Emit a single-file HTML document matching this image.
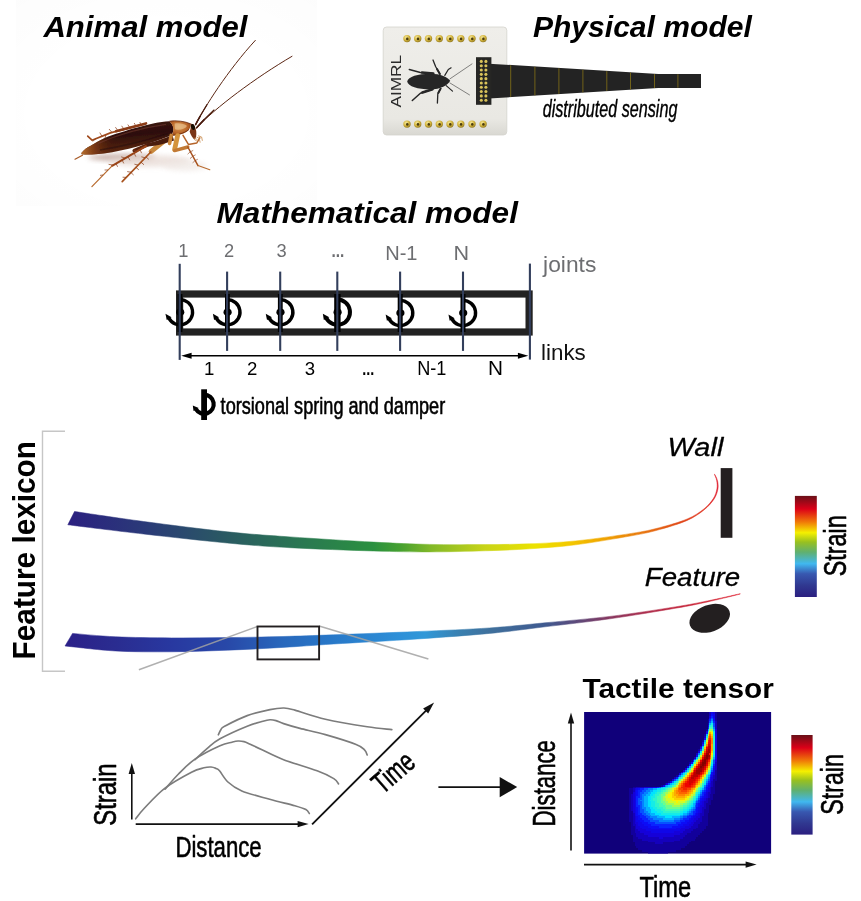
<!DOCTYPE html>
<html lang="en"><head><meta charset="utf-8"><title>Tactile sensing figure</title>
<style>
html,body{margin:0;padding:0;background:#fff;}
body{width:861px;height:901px;overflow:hidden;position:relative;}
svg{position:absolute;left:0;top:0;display:block;font-family:'Liberation Sans', 'DejaVu Sans', sans-serif;}
</style></head><body>
<svg width="861" height="901" viewBox="0 0 861 901">
<text transform="translate(43.40 37.10)" font-size="30.40" font-weight="bold" font-style="italic" fill="#000" text-anchor="start" textLength="204.00" lengthAdjust="spacingAndGlyphs">Animal model</text>
<text transform="translate(532.90 37.10)" font-size="30.40" font-weight="bold" font-style="italic" fill="#000" text-anchor="start" textLength="219.00" lengthAdjust="spacingAndGlyphs">Physical model</text>
<text transform="translate(542.70 116.70)" font-size="24.00" font-weight="normal" font-style="italic" fill="#000" text-anchor="start" textLength="134.70" lengthAdjust="spacingAndGlyphs" stroke="#000" stroke-width="0.40" stroke-linejoin="round">distributed sensing</text>
<defs>
<linearGradient id="wing" x1="0" y1="0" x2="0.25" y2="1">
<stop offset="0" stop-color="#451a12"/><stop offset="0.5" stop-color="#2c0e09"/><stop offset="1" stop-color="#5e2810"/>
</linearGradient>
<linearGradient id="wing2" x1="0" y1="0" x2="1" y2="0">
<stop offset="0" stop-color="#b8702e"/><stop offset="0.14" stop-color="#8a4218" stop-opacity="0.75"/><stop offset="0.4" stop-color="#3a1209" stop-opacity="0"/>
</linearGradient>
<radialGradient id="pron" cx="0.45" cy="0.4" r="0.7">
<stop offset="0" stop-color="#d99a50"/><stop offset="0.6" stop-color="#b86428"/><stop offset="1" stop-color="#7a3412"/>
</radialGradient>
<filter id="blur3" x="-20%" y="-50%" width="140%" height="200%"><feGaussianBlur stdDeviation="2.5"/></filter>
<filter id="blur1" x="-10%" y="-10%" width="120%" height="120%"><feGaussianBlur stdDeviation="0.5"/></filter>
</defs>
<defs><radialGradient id="vig" cx="0.5" cy="0.55" r="0.75"><stop offset="0.55" stop-color="#000" stop-opacity="0"/><stop offset="1" stop-color="#000" stop-opacity="0.011"/></radialGradient></defs>
<rect x="16" y="0" width="301" height="206" fill="url(#vig)"/>
<g id="roach">
<ellipse cx="122" cy="157.5" rx="34" ry="3.2" fill="#b89a90" opacity="0.8" filter="url(#blur3)"/>
<ellipse cx="150" cy="161" rx="42" ry="6" fill="#e6d8d2" opacity="0.7" filter="url(#blur3)"/>
<ellipse cx="185" cy="166" rx="22" ry="5" fill="#efe8e4" opacity="0.7" filter="url(#blur3)"/>
<g filter="url(#blur1)">
<path d="M195.6 124.6 C204 108 228 70 255.3 40.4" fill="none" stroke="#5a2614" stroke-width="1" stroke-linecap="round"/>
<path d="M196.6 127.8 C215 108 255 78 292 56.3" fill="none" stroke="#5a2614" stroke-width="1" stroke-linecap="round"/>
<path d="M195.6 124.6 C199 118 203 111 207 104.6 M196.6 127.8 C202 121.6 208 115.6 214 110" fill="none" stroke="#4a1c0e" stroke-width="1.15" stroke-linecap="round"/>
<path d="M195.6 124.6 C197 121.8 198.6 119 200.2 116.2 M196.6 127.8 C199 125 201.6 122.2 204.2 119.6" fill="none" stroke="#4a1c0e" stroke-width="1.5" stroke-linecap="round"/>
<path d="M144.1 124.3 L110.4 132.9 L92 140.2 L87.7 136.2" fill="none" stroke="#a04a1c" stroke-width="1.7" stroke-linecap="round" stroke-linejoin="round"/>
<path d="M146 123.4 L116 131.2" fill="none" stroke="#8a3a14" stroke-width="2.6" stroke-linecap="round"/>
<path d="M112 132.4l-3-3.4M118 130.8l-2.6-3.6M124 129.2l-2.4-3.4M130 127.8l-2.2-3.2M136 126.2l-1.8-3.2M141 125l-1.2-3M102 136.4l-2.2-3.8M96 138.6l-3.4 2.8M106 134.6l-1 3.4" stroke="#8a3a14" stroke-width="0.7" fill="none"/>
<path d="M82.5 155.2 L75 159.2" stroke="#a85a26" stroke-width="1.2" stroke-linecap="round"/>
<path d="M183 135.4 L188.4 144.4 L196.8 143 L199.8 137.8" fill="none" stroke="#b5642a" stroke-width="1.5" stroke-linecap="round" stroke-linejoin="round"/>
<path d="M196.6 137 l2.6 1.4 l1 4.2 M198.2 135.8 l3.4 1.2 l0.8 3.8" fill="none" stroke="#c98a4a" stroke-width="0.8"/>
<path d="M147.5 144.8 L134.2 150.6" stroke="#5a2410" stroke-width="3.6" stroke-linecap="round"/>
<path d="M146 146.2 L112.1 165.8" stroke="#9a4418" stroke-width="2" stroke-linecap="round"/>
<path d="M112.1 165.8 L91.9 186.6" stroke="#b86a2e" stroke-width="1.2" stroke-linecap="round"/>
<path d="M140 149.6l1.6 3.6M134 153l1.8 3.6M128 156.6l1.8 3.6M122 160l1.8 3.4M116 163.4l1.6 3.4M137 151.4l-3.8 -1.6M125 158.2l-3.8-1.4M113 165l-4.4 -0.6M108 170l-3.4 0M103 175l-3 0.4" stroke="#8a3a14" stroke-width="0.7" fill="none"/>
<path d="M164.3 140.8 L151.2 151.4" stroke="#c8883c" stroke-width="5" stroke-linecap="round"/>
<path d="M150.8 152 L122.2 181.6" stroke="#a8521e" stroke-width="1.7" stroke-linecap="round"/>
<path d="M146 157l2.8 2.4M141 162.2l3 2.6M136 167.4l2.8 2.4M131 172.6l2.6 2.4M145 157.8l-3.6 -1M138 165l-3.6-0.8M131 172.2l-3.8 -0.6M126 177.4l-3.4 -0.2" stroke="#8a3a14" stroke-width="0.7" fill="none"/>
<path d="M81.4 153 C84 149.6 87 147.6 90.2 146 C95 143 99 140.8 103.7 138.4 C109 135.8 114.6 134 120.5 132.4 C126 130.6 132 128.8 137.4 127.4 C143 125.8 148.6 124.4 154.2 123.2 C159.4 122.2 164.4 121.4 169.4 121.2 C173.8 125 175 130.4 171.2 135.4 C166.8 137.2 162.2 138.8 157.6 140.4 C153.2 142 148.6 143.4 144.1 144.6 C139 146.2 134 147.6 128.9 148.8 C123.4 150.2 117.8 151.2 112.1 152.2 C106.6 153.2 101 153.8 95.3 154.2 C90.6 154.6 86 154.6 81.6 154.2 Z" fill="url(#wing)"/>
<path d="M81.4 153 C84 149.6 87 147.6 90.2 146 C95 143 99 140.8 103.7 138.4 C109 135.8 114.6 134 120.5 132.4 C126 130.6 132 128.8 137.4 127.4 C143 125.8 148.6 124.4 154.2 123.2 C159.4 122.2 164.4 121.4 169.4 121.2 C173.8 125 175 130.4 171.2 135.4 C166.8 137.2 162.2 138.8 157.6 140.4 C153.2 142 148.6 143.4 144.1 144.6 C139 146.2 134 147.6 128.9 148.8 C123.4 150.2 117.8 151.2 112.1 152.2 C106.6 153.2 101 153.8 95.3 154.2 C90.6 154.6 86 154.6 81.6 154.2 Z" fill="url(#wing2)"/>
<path d="M98 143.5 C118 134.6 143 127.6 166 124.4" fill="none" stroke="#7a4038" stroke-width="1.2" opacity="0.5"/>
<path d="M100 150 C120 147 146 140.6 168 133.6" fill="none" stroke="#1e0804" stroke-width="1.6" opacity="0.45"/>
<path d="M146 143.8 C156 141.2 166 138 172.4 135 L174 140.6 C166 143.6 156 146 148 146.6 Z" fill="#4a1a0a"/>
<path d="M169.4 121.2 C176 120.2 185 121.2 190.6 123.8 C191.2 128.6 187.4 132.8 181 134.2 C176.8 135 173 135.2 171.2 136 C174.8 130.4 173.6 125 169.4 121.2 Z" fill="url(#pron)"/>
<path d="M174.6 123.6 C179 122.6 184.6 123.8 187 126 C184.6 129.4 179 130.8 175 129.2 Z" fill="#f0cfa0" opacity="0.6"/>
<path d="M169.4 121.2 C176 120.2 185 121.2 190.6 123.8" fill="none" stroke="#5a2410" stroke-width="0.9" opacity="0.8"/>
<path d="M171.4 135.8 C176 134.6 184 134 189 129.4" fill="none" stroke="#6a2a10" stroke-width="1" opacity="0.8"/>
<path d="M190.2 123.4 C193.8 123.6 195.8 127.2 196.2 131 C196.6 134.8 196.2 138.2 194.6 139.8 C192.6 138.2 190.6 135 189.6 131.6 C190.8 129.2 191 126 190.2 123.4 Z" fill="#7a3614"/>
<ellipse cx="193" cy="127" rx="1.9" ry="3" fill="#160804" transform="rotate(-15 193 127)"/>
<path d="M194.6 139.8 l1.8 1 l1.4 -1.2 M193.8 138 l3.2 1.4" stroke="#c98a4a" stroke-width="0.7" fill="none"/>
<path d="M171.2 135.4 L169.6 143.4" stroke="#c98438" stroke-width="3.6" stroke-linecap="round"/>
<path d="M177.6 135.6 L174.6 149.4" stroke="#d4943e" stroke-width="4.8" stroke-linecap="round"/>
<path d="M174.6 150.6 L187.8 147" stroke="#c27a34" stroke-width="3.4" stroke-linecap="round"/>
<path d="M187.8 147 L198 165.6" stroke="#a8521e" stroke-width="1.5" stroke-linecap="round"/>
<path d="M198 165.6 L209.8 169.8" stroke="#b86a2e" stroke-width="1.1" stroke-linecap="round"/>
<path d="M190.4 151.8l2.8-1.4M192.8 156.2l2.8-1.4M195.2 160.6l2.6-1.4M190 152l-2.4 2.2M192.4 156.6l-2.4 2M194.8 161l-2.2 1.8" stroke="#8a3a14" stroke-width="0.6" fill="none"/>
</g></g>
<defs>
<linearGradient id="pcb" x1="0" y1="0" x2="0" y2="1">
<stop offset="0" stop-color="#efeeea"/><stop offset="0.85" stop-color="#e9e8e3"/><stop offset="1" stop-color="#d9d8d2"/>
</linearGradient>
<radialGradient id="gold" cx="0.4" cy="0.35" r="0.7">
<stop offset="0" stop-color="#f6eaa0"/><stop offset="0.55" stop-color="#d4b53c"/><stop offset="1" stop-color="#8a7220"/>
</radialGradient>
</defs>
<g id="pcb">
<rect x="383.2" y="27" width="123.6" height="108" rx="3.4" fill="url(#pcb)"/>
<rect x="383.2" y="27" width="123.6" height="108" rx="3.4" fill="none" stroke="#d4d3cd" stroke-width="0.8"/>
<circle cx="407.0" cy="38.6" r="3.7" fill="url(#gold)"/>
<circle cx="407.3" cy="38.9" r="1.3" fill="#4a3c10"/>
<circle cx="417.7" cy="38.6" r="3.7" fill="url(#gold)"/>
<circle cx="418.0" cy="38.9" r="1.3" fill="#4a3c10"/>
<circle cx="428.5" cy="38.6" r="3.7" fill="url(#gold)"/>
<circle cx="428.8" cy="38.9" r="1.3" fill="#4a3c10"/>
<circle cx="439.3" cy="38.6" r="3.7" fill="url(#gold)"/>
<circle cx="439.6" cy="38.9" r="1.3" fill="#4a3c10"/>
<circle cx="450.0" cy="38.6" r="3.7" fill="url(#gold)"/>
<circle cx="450.3" cy="38.9" r="1.3" fill="#4a3c10"/>
<circle cx="460.8" cy="38.6" r="3.7" fill="url(#gold)"/>
<circle cx="461.1" cy="38.9" r="1.3" fill="#4a3c10"/>
<circle cx="472.0" cy="38.6" r="3.7" fill="url(#gold)"/>
<circle cx="472.3" cy="38.9" r="1.3" fill="#4a3c10"/>
<circle cx="483.1" cy="38.6" r="3.7" fill="url(#gold)"/>
<circle cx="483.4" cy="38.9" r="1.3" fill="#4a3c10"/>
<circle cx="407.0" cy="124.1" r="3.7" fill="url(#gold)"/>
<circle cx="407.3" cy="124.4" r="1.3" fill="#4a3c10"/>
<circle cx="417.7" cy="124.1" r="3.7" fill="url(#gold)"/>
<circle cx="418.0" cy="124.4" r="1.3" fill="#4a3c10"/>
<circle cx="428.5" cy="124.1" r="3.7" fill="url(#gold)"/>
<circle cx="428.8" cy="124.4" r="1.3" fill="#4a3c10"/>
<circle cx="439.3" cy="124.1" r="3.7" fill="url(#gold)"/>
<circle cx="439.6" cy="124.4" r="1.3" fill="#4a3c10"/>
<circle cx="450.0" cy="124.1" r="3.7" fill="url(#gold)"/>
<circle cx="450.3" cy="124.4" r="1.3" fill="#4a3c10"/>
<circle cx="460.8" cy="124.1" r="3.7" fill="url(#gold)"/>
<circle cx="461.1" cy="124.4" r="1.3" fill="#4a3c10"/>
<circle cx="472.0" cy="124.1" r="3.7" fill="url(#gold)"/>
<circle cx="472.3" cy="124.4" r="1.3" fill="#4a3c10"/>
<circle cx="483.1" cy="124.1" r="3.7" fill="url(#gold)"/>
<circle cx="483.4" cy="124.4" r="1.3" fill="#4a3c10"/>
<text transform="translate(401.20 107.60) rotate(-90.00)" font-size="15.00" font-weight="normal" font-style="normal" fill="#2a2a2a" text-anchor="start" textLength="52.60" lengthAdjust="spacingAndGlyphs" font-family="'Liberation Sans', sans-serif">AIMRL</text>
<path d="M407.2 81.6 C408 76.6 418 73.8 430 73.8 C441 73.8 447.6 77.4 450.2 80.8 C447.6 85.2 441 89.4 430 89.4 C418 89.4 408 86.6 407.2 81.6 Z" fill="#262626"/>
<g fill="none" stroke="#262626" stroke-linecap="round" stroke-linejoin="round">
<path d="M450 78.8 L472 63.9 M450 83 L469.5 94.9" stroke-width="0.55"/>
<path d="M433 73.4 L420.4 72.4 L409.3 69.5" stroke-width="1.5"/>
<path d="M439.9 74 L435.7 66.7 L433 60" stroke-width="1.3"/>
<path d="M444.8 75.4 L448.3 69.5 L451.1 67.8" stroke-width="1.2"/>
<path d="M432.3 89.4 L420.4 93.2 L412.3 100.5" stroke-width="1.5"/>
<path d="M440.6 88.6 L437.8 93.9 L437.4 103" stroke-width="1.3"/>
<path d="M446.2 85.6 L452.5 91.1" stroke-width="1.2"/>
<path d="M433.4 73.6 L422 72.5 M432.6 89.2 L422.4 92.5" stroke-width="2.5"/>
<path d="M439.9 74 L437 69 M440.6 88.6 L438.4 92.8" stroke-width="2"/>
</g>
<path d="M489 63.7 L658.4 74 L701 74 L701 88 L658.4 88 L489 98.5 Z" fill="#232323"/>
<path d="M510.7 65.3V96.9" stroke="#7a6a18" stroke-width="0.9"/>
<path d="M534.9 66.8V95.4" stroke="#7a6a18" stroke-width="0.9"/>
<path d="M558.9 68.3V93.9" stroke="#7a6a18" stroke-width="0.9"/>
<path d="M582.9 69.7V92.4" stroke="#7a6a18" stroke-width="0.9"/>
<path d="M606.8 71.2V90.9" stroke="#7a6a18" stroke-width="0.9"/>
<path d="M630.5 72.6V89.4" stroke="#7a6a18" stroke-width="0.9"/>
<path d="M654.5 74.1V87.9" stroke="#7a6a18" stroke-width="0.9"/>
<path d="M677.9 74.3V87.7" stroke="#7a6a18" stroke-width="0.9"/>
<rect x="476" y="57.2" width="15.4" height="47.6" fill="#262624"/>
<circle cx="481.3" cy="61.40" r="1.55" fill="#d9c25a"/>
<circle cx="485.9" cy="61.40" r="1.55" fill="#d9c25a"/>
<circle cx="481.3" cy="65.71" r="1.55" fill="#d9c25a"/>
<circle cx="485.9" cy="65.71" r="1.55" fill="#d9c25a"/>
<circle cx="481.3" cy="70.02" r="1.55" fill="#d9c25a"/>
<circle cx="485.9" cy="70.02" r="1.55" fill="#d9c25a"/>
<circle cx="481.3" cy="74.33" r="1.55" fill="#d9c25a"/>
<circle cx="485.9" cy="74.33" r="1.55" fill="#d9c25a"/>
<circle cx="481.3" cy="78.64" r="1.55" fill="#d9c25a"/>
<circle cx="485.9" cy="78.64" r="1.55" fill="#d9c25a"/>
<circle cx="481.3" cy="82.95" r="1.55" fill="#d9c25a"/>
<circle cx="485.9" cy="82.95" r="1.55" fill="#d9c25a"/>
<circle cx="481.3" cy="87.26" r="1.55" fill="#d9c25a"/>
<circle cx="485.9" cy="87.26" r="1.55" fill="#d9c25a"/>
<circle cx="481.3" cy="91.57" r="1.55" fill="#d9c25a"/>
<circle cx="485.9" cy="91.57" r="1.55" fill="#d9c25a"/>
<circle cx="481.3" cy="95.88" r="1.55" fill="#d9c25a"/>
<circle cx="485.9" cy="95.88" r="1.55" fill="#d9c25a"/>
<circle cx="481.3" cy="100.19" r="1.55" fill="#d9c25a"/>
<circle cx="485.9" cy="100.19" r="1.55" fill="#d9c25a"/>
</g>
<text transform="translate(216.60 222.50)" font-size="30.30" font-weight="bold" font-style="italic" fill="#000" text-anchor="start" textLength="301.30" lengthAdjust="spacingAndGlyphs">Mathematical model</text>
<text transform="translate(178.20 257.00)" font-size="18.30" font-weight="normal" font-style="normal" fill="#6d6e71" text-anchor="start">1</text>
<text transform="translate(224.00 257.00)" font-size="18.30" font-weight="normal" font-style="normal" fill="#6d6e71" text-anchor="start">2</text>
<text transform="translate(276.40 257.00)" font-size="18.30" font-weight="normal" font-style="normal" fill="#6d6e71" text-anchor="start">3</text>
<text transform="translate(331.50 257.00)" font-size="18.30" font-weight="bold" font-style="normal" fill="#6d6e71" text-anchor="start" textLength="12.80" lengthAdjust="spacingAndGlyphs">...</text>
<text transform="translate(385.20 260.10)" font-size="20.50" font-weight="normal" font-style="normal" fill="#6d6e71" text-anchor="start" textLength="32.30" lengthAdjust="spacingAndGlyphs">N-1</text>
<text transform="translate(453.60 260.10)" font-size="20.50" font-weight="normal" font-style="normal" fill="#6d6e71" text-anchor="start" textLength="15.60" lengthAdjust="spacingAndGlyphs">N</text>
<text transform="translate(543.10 271.80)" font-size="22.50" font-weight="normal" font-style="normal" fill="#6d6e71" text-anchor="start" textLength="53.20" lengthAdjust="spacingAndGlyphs">joints</text>
<text transform="translate(541.00 360.00)" font-size="22.50" font-weight="normal" font-style="normal" fill="#111" text-anchor="start" textLength="44.80" lengthAdjust="spacingAndGlyphs">links</text>
<rect x="179.6" y="294" width="349.5" height="38" fill="none" stroke="#222" stroke-width="7.2"/>
<path d="M180.00 299.60 A12.60 12.60 0 1 1 168.87 318.12" fill="none" stroke="#000" stroke-width="3.30"/>
<path d="M166.73 319.94L165.46 313.82L171.58 317.35Z" fill="#000"/>
<rect x="177.60" y="294" width="4.80" height="38" fill="#000"/>
<ellipse cx="180.20" cy="312.20" rx="4.1" ry="3.4" fill="#000"/>
<path d="M227.40 299.60 A12.60 12.60 0 1 1 216.27 318.12" fill="none" stroke="#000" stroke-width="3.40"/>
<path d="M214.08 319.96L212.86 313.82L219.03 317.33Z" fill="#000"/>
<rect x="225.00" y="294" width="4.80" height="38" fill="#000"/>
<ellipse cx="227.60" cy="312.20" rx="4.1" ry="3.4" fill="#000"/>
<path d="M280.30 299.60 A12.60 12.60 0 1 1 269.17 318.12" fill="none" stroke="#000" stroke-width="3.40"/>
<path d="M266.98 319.96L265.76 313.82L271.93 317.33Z" fill="#000"/>
<rect x="277.90" y="294" width="4.80" height="38" fill="#000"/>
<ellipse cx="280.50" cy="312.20" rx="4.1" ry="3.4" fill="#000"/>
<path d="M337.40 299.60 A12.60 12.60 0 1 1 326.27 318.12" fill="none" stroke="#000" stroke-width="4.00"/>
<path d="M323.82 320.10L322.86 313.82L329.29 317.19Z" fill="#000"/>
<rect x="334.20" y="294" width="6.40" height="38" fill="#000"/>
<ellipse cx="337.60" cy="312.20" rx="4.1" ry="3.4" fill="#000"/>
<path d="M400.20 300.40 A12.60 12.60 0 1 1 389.07 318.92" fill="none" stroke="#000" stroke-width="3.40"/>
<path d="M386.88 320.76L385.66 314.62L391.83 318.13Z" fill="#000"/>
<rect x="397.70" y="294" width="5.00" height="38" fill="#000"/>
<ellipse cx="400.40" cy="313.00" rx="4.1" ry="3.4" fill="#000"/>
<path d="M463.00 300.40 A12.60 12.60 0 1 1 451.87 318.92" fill="none" stroke="#000" stroke-width="3.40"/>
<path d="M449.68 320.76L448.46 314.62L454.63 318.13Z" fill="#000"/>
<rect x="460.50" y="294" width="5.00" height="38" fill="#000"/>
<ellipse cx="463.20" cy="313.00" rx="4.1" ry="3.4" fill="#000"/>
<path d="M179.7 263.8V359.9" stroke="#333f5c" stroke-width="2.1"/>
<path d="M227.1 271.6V350.9" stroke="#333f5c" stroke-width="2.1"/>
<path d="M280.2 271.6V350.9" stroke="#333f5c" stroke-width="2.1"/>
<path d="M337.3 271.6V350.9" stroke="#333f5c" stroke-width="2.1"/>
<path d="M400.1 271.6V350.9" stroke="#333f5c" stroke-width="2.1"/>
<path d="M463.0 271.6V350.9" stroke="#333f5c" stroke-width="2.1"/>
<path d="M529.9 263.6V359.6" stroke="#333f5c" stroke-width="2.1"/>
<path d="M190 355.7H520" stroke="#000" stroke-width="1.6"/>
<path d="M181.2 355.7l10.4-3v6z M528.3 355.7l-10.4-3v6z" fill="#000"/>
<text transform="translate(204.00 374.60)" font-size="18.60" font-weight="normal" font-style="normal" fill="#000" text-anchor="start">1</text>
<text transform="translate(247.00 374.60)" font-size="18.60" font-weight="normal" font-style="normal" fill="#000" text-anchor="start">2</text>
<text transform="translate(304.80 374.60)" font-size="18.60" font-weight="normal" font-style="normal" fill="#000" text-anchor="start">3</text>
<text transform="translate(362.20 374.60)" font-size="18.60" font-weight="bold" font-style="normal" fill="#000" text-anchor="start" textLength="12.00" lengthAdjust="spacingAndGlyphs">...</text>
<text transform="translate(417.20 374.80)" font-size="19.50" font-weight="normal" font-style="normal" fill="#000" text-anchor="start" textLength="29.20" lengthAdjust="spacingAndGlyphs">N-1</text>
<text transform="translate(488.00 374.80)" font-size="19.50" font-weight="normal" font-style="normal" fill="#000" text-anchor="start" textLength="15.00" lengthAdjust="spacingAndGlyphs">N</text>
<path d="M204.10 394.60 A9.60 9.60 0 1 1 195.79 409.00" fill="none" stroke="#000" stroke-width="4.20"/>
<path d="M193.49 411.02L192.79 405.42L198.68 408.02Z" fill="#000"/>
<rect x="201.20" y="389.30" width="5.80" height="30.70" fill="#000"/>
<text transform="translate(220.60 413.50)" font-size="24.00" font-weight="normal" font-style="normal" fill="#000" text-anchor="start" textLength="224.60" lengthAdjust="spacingAndGlyphs" stroke="#000" stroke-width="0.60" stroke-linejoin="round">torsional spring and damper</text>
<text transform="translate(35.40 659.40) rotate(-90.00)" font-size="31.70" font-weight="bold" font-style="normal" fill="#000" text-anchor="start" textLength="218.40" lengthAdjust="spacingAndGlyphs">Feature lexicon</text>
<path d="M65 431.2H42.5V671.2H65" fill="none" stroke="#c6c6c6" stroke-width="1.4"/>
<defs><linearGradient id="g1" gradientUnits="userSpaceOnUse" x1="67.8" y1="0" x2="717.9" y2="0"><stop offset="-0.0012" stop-color="#2b2080"/><stop offset="0.1188" stop-color="#2a3a78"/><stop offset="0.2449" stop-color="#2a5a62"/><stop offset="0.3572" stop-color="#2a7752"/><stop offset="0.4695" stop-color="#2a9040"/><stop offset="0.5110" stop-color="#45a030"/><stop offset="0.5571" stop-color="#80b828"/><stop offset="0.6417" stop-color="#c8d418"/><stop offset="0.7187" stop-color="#ece200"/><stop offset="0.7725" stop-color="#f3c800"/><stop offset="0.8186" stop-color="#f0a800"/><stop offset="0.8802" stop-color="#e87a10"/><stop offset="0.9417" stop-color="#e04818"/><stop offset="0.9802" stop-color="#e03020"/><stop offset="1.0002" stop-color="#e02030"/></linearGradient></defs>
<path d="M74.5 511.5C86.0 513.2 118.1 518.1 143.6 521.5C169.0 524.9 202.8 529.2 227.2 531.8C251.6 534.4 265.6 535.2 290.0 536.9C314.4 538.6 350.4 540.9 373.6 542.1C396.8 543.4 410.8 544.0 429.4 544.4C448.0 544.8 468.4 544.7 485.1 544.6C501.8 544.5 514.6 544.4 529.7 543.8C544.8 543.2 558.7 542.6 575.7 540.9C592.7 539.2 617.5 535.6 631.5 533.4C645.5 531.2 650.1 530.1 659.4 527.7C668.7 525.3 679.8 522.1 687.2 519.0C694.6 515.9 699.6 512.3 704.0 508.9C708.4 505.5 711.1 501.9 713.3 498.6C715.4 495.3 716.3 492.0 716.9 489.0C717.5 486.0 717.1 483.2 716.7 480.7C716.3 478.2 714.8 475.3 714.4 474.2L714.8 474.4C715.2 475.4 717.0 478.3 717.5 480.7C718.0 483.1 718.5 485.9 717.9 489.0C717.3 492.1 716.4 495.5 714.1 499.0C711.8 502.5 708.5 506.3 704.0 509.9C699.5 513.5 694.6 517.1 687.2 520.4C679.8 523.7 668.7 527.0 659.4 529.6C650.1 532.2 645.5 533.3 631.5 535.8C617.5 538.3 592.7 542.6 575.7 544.8C558.7 547.0 544.8 547.8 529.7 548.8C514.6 549.8 501.8 550.3 485.1 550.8C468.4 551.3 448.0 551.9 429.4 551.9C410.8 551.9 396.8 551.7 373.6 551.0C350.4 550.3 314.4 549.0 290.0 547.7C265.6 546.4 251.6 545.3 227.2 543.0C202.8 540.7 170.2 537.0 143.6 534.0C117.0 531.0 80.4 526.3 67.8 524.8Z" fill="url(#g1)" stroke="url(#g1)" stroke-width="0.5" stroke-linejoin="round"/>
<rect x="720.7" y="468.1" width="11.7" height="69.7" fill="#231f20"/>
<text transform="translate(667.60 455.80)" font-size="26.50" font-weight="normal" font-style="italic" fill="#000" text-anchor="start" textLength="55.70" lengthAdjust="spacingAndGlyphs" stroke="#000" stroke-width="0.30" stroke-linejoin="round">Wall</text>
<defs><linearGradient id="g2" gradientUnits="userSpaceOnUse" x1="65.0" y1="0" x2="740.2" y2="0"><stop offset="0.0000" stop-color="#2b2088"/><stop offset="0.0741" stop-color="#2a2c90"/><stop offset="0.1570" stop-color="#2838a0"/><stop offset="0.2399" stop-color="#2848a8"/><stop offset="0.3229" stop-color="#2868bc"/><stop offset="0.3969" stop-color="#2878c8"/><stop offset="0.4961" stop-color="#2e90d8"/><stop offset="0.5332" stop-color="#3098d8"/><stop offset="0.5850" stop-color="#3a80b0"/><stop offset="0.6294" stop-color="#3f709c"/><stop offset="0.7109" stop-color="#405a90"/><stop offset="0.7627" stop-color="#604878"/><stop offset="0.8072" stop-color="#883860"/><stop offset="0.8516" stop-color="#a83050"/><stop offset="0.9034" stop-color="#c02840"/><stop offset="0.9553" stop-color="#d02030"/><stop offset="0.9997" stop-color="#e02030"/></linearGradient></defs>
<path d="M72.5 633.4C79.7 634.0 99.2 636.0 115.7 636.8C132.2 637.5 152.9 637.8 171.5 637.9C190.1 638.0 208.6 637.8 227.2 637.6C245.8 637.4 265.3 637.0 283.0 636.5C300.7 636.0 311.2 635.6 333.6 634.8C356.0 634.0 391.2 632.6 417.2 631.5C443.2 630.4 468.4 629.4 489.7 627.9C511.0 626.4 525.0 624.7 545.0 622.8C565.0 620.9 588.3 619.0 610.0 616.4C631.7 613.8 658.8 609.5 675.1 606.9C691.4 604.3 696.8 603.1 707.6 600.9C718.5 598.7 734.8 594.9 740.2 593.7L740.2 594.1C734.8 595.4 718.5 599.5 707.6 601.9C696.8 604.3 691.4 605.5 675.1 608.3C658.8 611.1 631.7 615.7 610.0 618.8C588.3 621.9 565.0 624.4 545.0 626.8C525.0 629.2 511.0 631.4 489.7 633.4C468.4 635.4 443.2 637.2 417.2 639.0C391.2 640.8 356.0 642.6 333.6 644.0C311.2 645.4 300.7 646.4 283.0 647.4C265.3 648.4 245.8 649.5 227.2 650.2C208.6 650.9 190.1 651.7 171.5 651.8C152.9 651.9 133.4 652.0 115.7 651.0C98.0 650.0 73.5 646.8 65.0 646.0Z" fill="url(#g2)" stroke="url(#g2)" stroke-width="0.5" stroke-linejoin="round"/>
<ellipse cx="709.7" cy="618.3" rx="21" ry="13.4" transform="rotate(-20 709.7 618.3)" fill="#231f20"/>
<text transform="translate(644.80 586.40)" font-size="26.00" font-weight="normal" font-style="italic" fill="#000" text-anchor="start" textLength="95.30" lengthAdjust="spacingAndGlyphs" stroke="#000" stroke-width="0.30" stroke-linejoin="round">Feature</text>
<path d="M138.9 669.7L257.4 626.5M319.1 625.9L428.4 659.1" stroke="#a2a2a2" stroke-opacity="0.85" stroke-width="1.6" fill="none"/>
<rect x="257.5" y="626.5" width="61.6" height="32.9" fill="none" stroke="#231f20" stroke-width="1.9"/>
<defs><linearGradient id="cbar" x1="0" y1="0" x2="0" y2="1">
<stop offset="0" stop-color="#6a1018"/><stop offset="0.129" stop-color="#dc0018"/><stop offset="0.257" stop-color="#f07808"/>
<stop offset="0.364" stop-color="#f5f000"/><stop offset="0.457" stop-color="#98c020"/><stop offset="0.557" stop-color="#60b070"/>
<stop offset="0.671" stop-color="#40b8f0"/><stop offset="0.771" stop-color="#3858b0"/><stop offset="0.886" stop-color="#303890"/>
<stop offset="1" stop-color="#2b1f80"/></linearGradient></defs>
<rect x="794.9" y="495.9" width="21.9" height="101.1" fill="url(#cbar)"/>
<text transform="translate(846.10 576.20) rotate(-90.00)" font-size="31.50" font-weight="normal" font-style="normal" fill="#000" text-anchor="start" textLength="60.80" lengthAdjust="spacingAndGlyphs" stroke="#000" stroke-width="0.60" stroke-linejoin="round">Strain</text>
<text transform="translate(115.70 825.80) rotate(-90.00)" font-size="31.00" font-weight="normal" font-style="normal" fill="#000" text-anchor="start" textLength="62.40" lengthAdjust="spacingAndGlyphs" stroke="#000" stroke-width="0.60" stroke-linejoin="round">Strain</text>
<text transform="translate(175.40 857.20)" font-size="30.30" font-weight="normal" font-style="normal" fill="#000" text-anchor="start" textLength="86.30" lengthAdjust="spacingAndGlyphs" stroke="#000" stroke-width="0.60" stroke-linejoin="round">Distance</text>
<text transform="translate(382.40 794.90) rotate(-41.00)" font-size="29.60" font-weight="normal" font-style="normal" fill="#000" text-anchor="start" textLength="46.00" lengthAdjust="spacingAndGlyphs" stroke="#000" stroke-width="0.60" stroke-linejoin="round">Time</text>
<path d="M131.8 819.6L131.8 773.0" stroke="#111" stroke-width="1.60"/>
<path d="M131.8 763.0L135.0 774.0L128.6 774.0Z" fill="#111"/>
<path d="M135.7 824.1L298.6 824.1" stroke="#111" stroke-width="1.60"/>
<path d="M308.6 824.1L297.6 827.3L297.6 820.9Z" fill="#111"/>
<path d="M312.1 824.4L426.3 710.3" stroke="#111" stroke-width="1.90"/>
<path d="M434.1 702.5L428.2 713.5L423.1 708.4Z" fill="#111"/>
<path d="M135.7 818.8C137.1 817.1 139.2 813.6 144.1 808.5C149.0 803.4 157.1 794.1 165.0 788.1C172.9 782.1 185.0 775.6 191.5 772.2C198.0 768.8 200.8 768.7 204.0 767.8C207.2 766.9 209.0 766.9 211.0 767.0C213.0 767.1 214.6 767.8 216.0 768.4C217.4 769.0 217.5 768.5 219.5 770.8C221.5 773.1 224.2 778.6 227.9 782.0C231.6 785.4 234.8 788.0 241.8 790.9C248.8 793.8 260.9 796.8 269.7 799.3C278.5 801.8 288.8 804.0 294.8 805.7C300.8 807.4 303.5 808.3 305.9 809.6C308.3 810.9 308.7 812.9 309.3 813.5" fill="none" stroke="#7c7c7c" stroke-width="1.65" stroke-linecap="round"/>
<path d="M165.0 789.2C167.2 786.8 173.0 779.5 178.0 774.5C183.0 769.5 188.0 763.9 195.0 759.1C202.0 754.3 213.8 748.5 220.0 745.7C226.2 742.9 229.0 743.0 232.0 742.2C235.0 741.4 236.0 741.1 238.0 741.0C240.0 740.9 242.0 741.1 244.0 741.6C246.0 742.1 247.2 742.8 250.2 744.2C253.2 745.6 256.4 747.2 262.0 749.8C267.6 752.4 274.4 756.2 283.6 759.7C292.8 763.2 308.7 767.6 317.1 770.8C325.5 773.9 330.2 776.4 333.8 778.6C337.4 780.8 337.7 783.0 338.5 783.9" fill="none" stroke="#7c7c7c" stroke-width="1.65" stroke-linecap="round"/>
<path d="M195.0 759.7C197.0 757.9 202.8 752.1 207.0 748.6C211.2 745.1 213.3 742.5 220.0 738.8C226.7 735.1 240.0 729.1 247.2 726.2C254.4 723.3 259.2 722.3 263.0 721.2C266.8 720.1 267.8 719.9 270.0 719.8C272.2 719.7 273.7 720.0 276.0 720.6C278.3 721.2 279.6 722.3 283.6 723.6C287.6 724.9 293.0 726.6 300.0 728.4C307.0 730.2 316.0 731.9 325.4 734.6C334.8 737.3 349.6 741.9 356.1 744.4C362.6 746.9 362.6 748.1 364.5 749.9C366.4 751.7 366.8 754.1 367.2 755.0" fill="none" stroke="#7c7c7c" stroke-width="1.65" stroke-linecap="round"/>
<path d="M218.3 734.8C218.8 733.9 219.9 730.9 221.0 729.4C222.1 727.9 220.6 728.3 225.0 726.0C229.4 723.7 239.7 718.3 247.2 715.6C254.7 712.9 263.9 710.9 270.0 709.6C276.1 708.3 279.9 707.9 284.0 708.0C288.1 708.1 287.9 708.2 294.8 710.1C301.7 712.0 313.3 716.5 325.4 719.3C337.5 722.1 356.1 725.1 367.2 726.8C378.3 728.5 387.7 729.1 391.8 729.6" fill="none" stroke="#7c7c7c" stroke-width="1.65" stroke-linecap="round"/>
<path d="M438.4 787.1H501" stroke="#111" stroke-width="1.8"/>
<path d="M517.2 787.1L499.7 776.9V797.3Z" fill="#111"/>
<text transform="translate(582.50 698.10)" font-size="28.00" font-weight="bold" font-style="normal" fill="#000" text-anchor="start" textLength="191.40" lengthAdjust="spacingAndGlyphs">Tactile tensor</text>
<text transform="translate(555.40 826.40) rotate(-90.00)" font-size="31.00" font-weight="normal" font-style="normal" fill="#000" text-anchor="start" textLength="86.30" lengthAdjust="spacingAndGlyphs" stroke="#000" stroke-width="0.60" stroke-linejoin="round">Distance</text>
<text transform="translate(639.40 896.80)" font-size="29.40" font-weight="normal" font-style="normal" fill="#000" text-anchor="start" textLength="51.70" lengthAdjust="spacingAndGlyphs" stroke="#000" stroke-width="0.60" stroke-linejoin="round">Time</text>
<path d="M571.0 850.6L571.0 722.4" stroke="#111" stroke-width="1.60"/>
<path d="M571.0 712.4L574.2 723.4L567.8 723.4Z" fill="#111"/>
<path d="M584.0 864.6L746.6 864.6" stroke="#111" stroke-width="1.60"/>
<path d="M756.6 864.6L745.6 867.8L745.6 861.4Z" fill="#111"/>
<rect x="584.1" y="712" width="187" height="141.6" fill="#10007a"/>
<defs><clipPath id="hclip"><rect x="584.1" y="712" width="187" height="141.6"/></clipPath></defs>
<g id="heat" shape-rendering="crispEdges" clip-path="url(#hclip)"><path fill="#12009b" d="M715.0 712.0h2.0v1.96h-2.0zM715.0 713.8h2.0v1.96h-2.0zM715.0 715.7h2.0v1.96h-2.0zM715.0 717.5h2.0v1.96h-2.0zM707.5 719.4h2.0v1.96h-2.0zM715.0 719.4h2.0v1.96h-2.0zM707.5 721.3h2.0v1.96h-2.0zM705.6 728.7h2.0v1.96h-2.0zM703.7 734.3h2.0v1.96h-2.0zM701.9 739.9h2.0v1.96h-2.0zM698.1 749.2h2.0v1.96h-2.0zM692.5 758.5h2.0v1.96h-2.0zM690.6 760.4h2.0v1.96h-2.0zM688.8 762.3h2.0v1.96h-2.0zM715.0 769.7h2.0v1.96h-2.0zM715.0 771.6h2.0v1.96h-2.0zM715.0 773.4h2.0v1.96h-2.0zM675.7 775.3h2.0v1.96h-2.0zM715.0 775.3h2.0v1.96h-2.0zM715.0 777.2h2.0v1.96h-2.0zM713.1 779.0h3.8v1.96h-3.8zM668.2 780.9h2.0v1.96h-2.0zM713.1 780.9h2.0v1.96h-2.0zM664.5 782.8h2.0v1.96h-2.0zM713.1 782.8h2.0v1.96h-2.0zM660.7 784.6h2.0v1.96h-2.0zM713.1 784.6h2.0v1.96h-2.0zM632.7 786.5h3.8v1.96h-3.8zM711.2 786.5h3.8v1.96h-3.8zM628.9 788.3h3.8v1.96h-3.8zM711.2 788.3h3.8v1.96h-3.8zM628.9 790.2h3.8v1.96h-3.8zM711.2 790.2h3.8v1.96h-3.8zM628.9 792.1h3.8v1.96h-3.8zM711.2 792.1h3.8v1.96h-3.8zM628.9 793.9h2.0v1.96h-2.0zM709.3 793.9h3.8v1.96h-3.8zM628.9 795.8h2.0v1.96h-2.0zM709.3 795.8h3.8v1.96h-3.8zM628.9 797.7h2.0v1.96h-2.0zM707.5 797.7h5.7v1.96h-5.7zM628.9 799.5h2.0v1.96h-2.0zM707.5 799.5h3.8v1.96h-3.8zM628.9 801.4h2.0v1.96h-2.0zM707.5 801.4h3.8v1.96h-3.8zM628.9 803.2h2.0v1.96h-2.0zM705.6 803.2h5.7v1.96h-5.7zM628.9 805.1h2.0v1.96h-2.0zM705.6 805.1h3.8v1.96h-3.8zM628.9 807.0h2.0v1.96h-2.0zM705.6 807.0h3.8v1.96h-3.8zM628.9 808.8h2.0v1.96h-2.0zM703.7 808.8h5.7v1.96h-5.7zM628.9 810.7h3.8v1.96h-3.8zM703.7 810.7h5.7v1.96h-5.7zM628.9 812.6h3.8v1.96h-3.8zM703.7 812.6h3.8v1.96h-3.8zM628.9 814.4h3.8v1.96h-3.8zM703.7 814.4h3.8v1.96h-3.8zM628.9 816.3h3.8v1.96h-3.8zM701.9 816.3h5.7v1.96h-5.7zM628.9 818.2h3.8v1.96h-3.8zM701.9 818.2h5.7v1.96h-5.7zM628.9 820.0h3.8v1.96h-3.8zM701.9 820.0h5.7v1.96h-5.7zM630.8 821.9h2.0v1.96h-2.0zM700.0 821.9h7.6v1.96h-7.6zM630.8 823.7h2.0v1.96h-2.0zM698.1 823.7h9.5v1.96h-9.5zM630.8 825.6h3.8v1.96h-3.8zM698.1 825.6h7.6v1.96h-7.6zM630.8 827.5h3.8v1.96h-3.8zM696.3 827.5h9.5v1.96h-9.5zM630.8 829.3h3.8v1.96h-3.8zM692.5 829.3h11.3v1.96h-11.3zM630.8 831.2h3.8v1.96h-3.8zM690.6 831.2h11.3v1.96h-11.3zM630.8 833.1h5.7v1.96h-5.7zM686.9 833.1h13.2v1.96h-13.2zM632.7 834.9h3.8v1.96h-3.8zM685.0 834.9h13.2v1.96h-13.2zM632.7 836.8h5.7v1.96h-5.7zM683.2 836.8h13.2v1.96h-13.2zM632.7 838.6h9.5v1.96h-9.5zM679.4 838.6h15.1v1.96h-15.1zM632.7 840.5h15.1v1.96h-15.1zM673.8 840.5h16.9v1.96h-16.9zM634.5 842.4h20.7v1.96h-20.7zM662.6 842.4h26.3v1.96h-26.3zM634.5 844.2h52.5v1.96h-52.5zM636.4 846.1h48.7v1.96h-48.7zM638.3 848.0h43.1v1.96h-43.1zM642.0 849.8h33.8v1.96h-33.8zM647.6 851.7h20.7v1.96h-20.7z"/>
<path fill="#1400bc" d="M709.3 712.0h2.0v1.96h-2.0zM709.3 713.8h2.0v1.96h-2.0zM715.0 721.3h2.0v1.96h-2.0zM707.5 723.1h2.0v1.96h-2.0zM715.0 723.1h2.0v1.96h-2.0zM715.0 725.0h2.0v1.96h-2.0zM715.0 726.9h2.0v1.96h-2.0zM703.7 736.2h2.0v1.96h-2.0zM700.0 745.5h2.0v1.96h-2.0zM696.3 752.9h2.0v1.96h-2.0zM694.4 756.7h2.0v1.96h-2.0zM715.0 762.3h2.0v1.96h-2.0zM715.0 764.1h2.0v1.96h-2.0zM715.0 766.0h2.0v1.96h-2.0zM715.0 767.8h2.0v1.96h-2.0zM713.1 775.3h2.0v1.96h-2.0zM673.8 777.2h2.0v1.96h-2.0zM713.1 777.2h2.0v1.96h-2.0zM711.2 780.9h2.0v1.96h-2.0zM711.2 782.8h2.0v1.96h-2.0zM711.2 784.6h2.0v1.96h-2.0zM636.4 786.5h7.6v1.96h-7.6zM709.3 786.5h2.0v1.96h-2.0zM632.7 788.3h2.0v1.96h-2.0zM709.3 788.3h2.0v1.96h-2.0zM632.7 790.2h2.0v1.96h-2.0zM709.3 790.2h2.0v1.96h-2.0zM707.5 792.1h3.8v1.96h-3.8zM630.8 793.9h2.0v1.96h-2.0zM707.5 793.9h2.0v1.96h-2.0zM630.8 795.8h2.0v1.96h-2.0zM707.5 795.8h2.0v1.96h-2.0zM630.8 797.7h2.0v1.96h-2.0zM705.6 797.7h2.0v1.96h-2.0zM630.8 799.5h2.0v1.96h-2.0zM705.6 799.5h2.0v1.96h-2.0zM630.8 801.4h2.0v1.96h-2.0zM703.7 801.4h3.8v1.96h-3.8zM630.8 803.2h2.0v1.96h-2.0zM703.7 803.2h2.0v1.96h-2.0zM630.8 805.1h2.0v1.96h-2.0zM703.7 805.1h2.0v1.96h-2.0zM630.8 807.0h2.0v1.96h-2.0zM701.9 807.0h3.8v1.96h-3.8zM630.8 808.8h2.0v1.96h-2.0zM701.9 808.8h2.0v1.96h-2.0zM701.9 810.7h2.0v1.96h-2.0zM632.7 812.6h2.0v1.96h-2.0zM700.0 812.6h3.8v1.96h-3.8zM632.7 814.4h2.0v1.96h-2.0zM700.0 814.4h3.8v1.96h-3.8zM632.7 816.3h2.0v1.96h-2.0zM700.0 816.3h2.0v1.96h-2.0zM632.7 818.2h2.0v1.96h-2.0zM698.1 818.2h3.8v1.96h-3.8zM632.7 820.0h2.0v1.96h-2.0zM696.3 820.0h5.7v1.96h-5.7zM632.7 821.9h2.0v1.96h-2.0zM694.4 821.9h5.7v1.96h-5.7zM632.7 823.7h3.8v1.96h-3.8zM692.5 823.7h5.7v1.96h-5.7zM634.5 825.6h2.0v1.96h-2.0zM690.6 825.6h7.6v1.96h-7.6zM634.5 827.5h2.0v1.96h-2.0zM688.8 827.5h7.6v1.96h-7.6zM634.5 829.3h3.8v1.96h-3.8zM685.0 829.3h7.6v1.96h-7.6zM634.5 831.2h5.7v1.96h-5.7zM683.2 831.2h7.6v1.96h-7.6zM636.4 833.1h7.6v1.96h-7.6zM679.4 833.1h7.6v1.96h-7.6zM636.4 834.9h11.3v1.96h-11.3zM673.8 834.9h11.3v1.96h-11.3zM638.3 836.8h20.7v1.96h-20.7zM662.6 836.8h20.7v1.96h-20.7zM642.0 838.6h37.5v1.96h-37.5zM647.6 840.5h26.3v1.96h-26.3zM655.1 842.4h7.6v1.96h-7.6z"/>
<path fill="#1501d9" d="M713.1 712.0h2.0v1.96h-2.0zM709.3 715.7h2.0v1.96h-2.0zM715.0 728.7h2.0v1.96h-2.0zM705.6 730.6h2.0v1.96h-2.0zM715.0 730.6h2.0v1.96h-2.0zM715.0 732.4h2.0v1.96h-2.0zM701.9 741.8h2.0v1.96h-2.0zM715.0 758.5h2.0v1.96h-2.0zM715.0 760.4h2.0v1.96h-2.0zM685.0 767.8h2.0v1.96h-2.0zM683.2 769.7h2.0v1.96h-2.0zM681.3 771.6h2.0v1.96h-2.0zM713.1 771.6h2.0v1.96h-2.0zM679.4 773.4h2.0v1.96h-2.0zM713.1 773.4h2.0v1.96h-2.0zM711.2 777.2h2.0v1.96h-2.0zM671.9 779.0h2.0v1.96h-2.0zM711.2 779.0h2.0v1.96h-2.0zM666.3 782.8h2.0v1.96h-2.0zM709.3 782.8h2.0v1.96h-2.0zM709.3 784.6h2.0v1.96h-2.0zM643.9 786.5h9.5v1.96h-9.5zM634.5 788.3h2.0v1.96h-2.0zM707.5 788.3h2.0v1.96h-2.0zM707.5 790.2h2.0v1.96h-2.0zM632.7 792.1h2.0v1.96h-2.0zM705.6 792.1h2.0v1.96h-2.0zM632.7 793.9h2.0v1.96h-2.0zM705.6 793.9h2.0v1.96h-2.0zM632.7 795.8h2.0v1.96h-2.0zM705.6 795.8h2.0v1.96h-2.0zM632.7 797.7h2.0v1.96h-2.0zM703.7 797.7h2.0v1.96h-2.0zM632.7 799.5h2.0v1.96h-2.0zM703.7 799.5h2.0v1.96h-2.0zM632.7 801.4h2.0v1.96h-2.0zM701.9 801.4h2.0v1.96h-2.0zM632.7 803.2h2.0v1.96h-2.0zM701.9 803.2h2.0v1.96h-2.0zM632.7 805.1h2.0v1.96h-2.0zM700.0 805.1h3.8v1.96h-3.8zM632.7 807.0h2.0v1.96h-2.0zM700.0 807.0h2.0v1.96h-2.0zM632.7 808.8h2.0v1.96h-2.0zM700.0 808.8h2.0v1.96h-2.0zM632.7 810.7h2.0v1.96h-2.0zM700.0 810.7h2.0v1.96h-2.0zM698.1 812.6h2.0v1.96h-2.0zM698.1 814.4h2.0v1.96h-2.0zM634.5 816.3h2.0v1.96h-2.0zM696.3 816.3h3.8v1.96h-3.8zM634.5 818.2h2.0v1.96h-2.0zM694.4 818.2h3.8v1.96h-3.8zM634.5 820.0h2.0v1.96h-2.0zM692.5 820.0h3.8v1.96h-3.8zM634.5 821.9h3.8v1.96h-3.8zM690.6 821.9h3.8v1.96h-3.8zM636.4 823.7h2.0v1.96h-2.0zM688.8 823.7h3.8v1.96h-3.8zM636.4 825.6h3.8v1.96h-3.8zM685.0 825.6h5.7v1.96h-5.7zM636.4 827.5h5.7v1.96h-5.7zM681.3 827.5h7.6v1.96h-7.6zM638.3 829.3h7.6v1.96h-7.6zM679.4 829.3h5.7v1.96h-5.7zM640.2 831.2h11.3v1.96h-11.3zM673.8 831.2h9.5v1.96h-9.5zM643.9 833.1h35.6v1.96h-35.6zM647.6 834.9h26.3v1.96h-26.3zM658.9 836.8h3.8v1.96h-3.8z"/>
<path fill="#1006e8" d="M711.2 712.0h2.0v1.96h-2.0zM713.1 713.8h2.0v1.96h-2.0zM713.1 715.7h2.0v1.96h-2.0zM707.5 725.0h2.0v1.96h-2.0zM715.0 734.3h2.0v1.96h-2.0zM715.0 736.2h2.0v1.96h-2.0zM715.0 738.0h2.0v1.96h-2.0zM715.0 739.9h2.0v1.96h-2.0zM715.0 741.8h2.0v1.96h-2.0zM715.0 743.6h2.0v1.96h-2.0zM715.0 745.5h2.0v1.96h-2.0zM700.0 747.4h2.0v1.96h-2.0zM715.0 747.4h2.0v1.96h-2.0zM715.0 749.2h2.0v1.96h-2.0zM698.1 751.1h2.0v1.96h-2.0zM715.0 751.1h2.0v1.96h-2.0zM715.0 752.9h2.0v1.96h-2.0zM715.0 754.8h2.0v1.96h-2.0zM715.0 756.7h2.0v1.96h-2.0zM686.9 766.0h2.0v1.96h-2.0zM713.1 767.8h2.0v1.96h-2.0zM713.1 769.7h2.0v1.96h-2.0zM677.6 775.3h2.0v1.96h-2.0zM711.2 775.3h2.0v1.96h-2.0zM709.3 779.0h2.0v1.96h-2.0zM670.1 780.9h2.0v1.96h-2.0zM709.3 780.9h2.0v1.96h-2.0zM662.6 784.6h2.0v1.96h-2.0zM707.5 784.6h2.0v1.96h-2.0zM653.2 786.5h3.8v1.96h-3.8zM707.5 786.5h2.0v1.96h-2.0zM636.4 788.3h2.0v1.96h-2.0zM634.5 790.2h2.0v1.96h-2.0zM705.6 790.2h2.0v1.96h-2.0zM634.5 792.1h2.0v1.96h-2.0zM634.5 793.9h2.0v1.96h-2.0zM703.7 793.9h2.0v1.96h-2.0zM634.5 795.8h2.0v1.96h-2.0zM703.7 795.8h2.0v1.96h-2.0zM634.5 797.7h2.0v1.96h-2.0zM701.9 797.7h2.0v1.96h-2.0zM634.5 799.5h2.0v1.96h-2.0zM701.9 799.5h2.0v1.96h-2.0zM634.5 801.4h2.0v1.96h-2.0zM700.0 801.4h2.0v1.96h-2.0zM634.5 803.2h2.0v1.96h-2.0zM700.0 803.2h2.0v1.96h-2.0zM634.5 805.1h2.0v1.96h-2.0zM634.5 807.0h2.0v1.96h-2.0zM698.1 807.0h2.0v1.96h-2.0zM634.5 808.8h2.0v1.96h-2.0zM698.1 808.8h2.0v1.96h-2.0zM634.5 810.7h2.0v1.96h-2.0zM698.1 810.7h2.0v1.96h-2.0zM634.5 812.6h2.0v1.96h-2.0zM696.3 812.6h2.0v1.96h-2.0zM634.5 814.4h2.0v1.96h-2.0zM694.4 814.4h3.8v1.96h-3.8zM636.4 816.3h2.0v1.96h-2.0zM692.5 816.3h3.8v1.96h-3.8zM636.4 818.2h2.0v1.96h-2.0zM690.6 818.2h3.8v1.96h-3.8zM636.4 820.0h3.8v1.96h-3.8zM688.8 820.0h3.8v1.96h-3.8zM638.3 821.9h3.8v1.96h-3.8zM686.9 821.9h3.8v1.96h-3.8zM638.3 823.7h5.7v1.96h-5.7zM683.2 823.7h5.7v1.96h-5.7zM640.2 825.6h7.6v1.96h-7.6zM679.4 825.6h5.7v1.96h-5.7zM642.0 827.5h9.5v1.96h-9.5zM675.7 827.5h5.7v1.96h-5.7zM645.8 829.3h33.8v1.96h-33.8zM651.4 831.2h22.5v1.96h-22.5z"/>
<path fill="#0c0cf6" d="M711.2 713.8h2.0v1.96h-2.0zM709.3 717.5h2.0v1.96h-2.0zM713.1 717.5h2.0v1.96h-2.0zM713.1 719.4h2.0v1.96h-2.0zM705.6 732.4h2.0v1.96h-2.0zM703.7 738.0h2.0v1.96h-2.0zM696.3 754.8h2.0v1.96h-2.0zM690.6 762.3h2.0v1.96h-2.0zM688.8 764.1h2.0v1.96h-2.0zM713.1 766.0h2.0v1.96h-2.0zM711.2 771.6h2.0v1.96h-2.0zM711.2 773.4h2.0v1.96h-2.0zM709.3 777.2h2.0v1.96h-2.0zM707.5 782.8h2.0v1.96h-2.0zM705.6 786.5h2.0v1.96h-2.0zM638.3 788.3h2.0v1.96h-2.0zM705.6 788.3h2.0v1.96h-2.0zM636.4 790.2h2.0v1.96h-2.0zM636.4 792.1h2.0v1.96h-2.0zM703.7 792.1h2.0v1.96h-2.0zM636.4 793.9h2.0v1.96h-2.0zM701.9 795.8h2.0v1.96h-2.0zM700.0 797.7h2.0v1.96h-2.0zM700.0 799.5h2.0v1.96h-2.0zM698.1 803.2h2.0v1.96h-2.0zM698.1 805.1h2.0v1.96h-2.0zM636.4 807.0h2.0v1.96h-2.0zM696.3 807.0h2.0v1.96h-2.0zM636.4 808.8h2.0v1.96h-2.0zM696.3 808.8h2.0v1.96h-2.0zM636.4 810.7h2.0v1.96h-2.0zM696.3 810.7h2.0v1.96h-2.0zM636.4 812.6h2.0v1.96h-2.0zM694.4 812.6h2.0v1.96h-2.0zM636.4 814.4h3.8v1.96h-3.8zM692.5 814.4h2.0v1.96h-2.0zM638.3 816.3h2.0v1.96h-2.0zM690.6 816.3h2.0v1.96h-2.0zM638.3 818.2h3.8v1.96h-3.8zM688.8 818.2h2.0v1.96h-2.0zM640.2 820.0h3.8v1.96h-3.8zM685.0 820.0h3.8v1.96h-3.8zM642.0 821.9h5.7v1.96h-5.7zM681.3 821.9h5.7v1.96h-5.7zM643.9 823.7h7.6v1.96h-7.6zM677.6 823.7h5.7v1.96h-5.7zM647.6 825.6h11.3v1.96h-11.3zM671.9 825.6h7.6v1.96h-7.6zM651.4 827.5h24.4v1.96h-24.4z"/>
<path fill="#0923ff" d="M711.2 715.7h2.0v1.96h-2.0zM709.3 719.4h2.0v1.96h-2.0zM713.1 721.3h2.0v1.96h-2.0zM707.5 726.9h2.0v1.96h-2.0zM701.9 743.6h2.0v1.96h-2.0zM692.5 760.4h2.0v1.96h-2.0zM713.1 764.1h2.0v1.96h-2.0zM709.3 775.3h2.0v1.96h-2.0zM675.7 777.2h2.0v1.96h-2.0zM707.5 780.9h2.0v1.96h-2.0zM705.6 784.6h2.0v1.96h-2.0zM657.0 786.5h2.0v1.96h-2.0zM640.2 788.3h3.8v1.96h-3.8zM638.3 790.2h3.8v1.96h-3.8zM703.7 790.2h2.0v1.96h-2.0zM638.3 792.1h2.0v1.96h-2.0zM701.9 792.1h2.0v1.96h-2.0zM638.3 793.9h2.0v1.96h-2.0zM701.9 793.9h2.0v1.96h-2.0zM636.4 795.8h3.8v1.96h-3.8zM700.0 795.8h2.0v1.96h-2.0zM636.4 797.7h2.0v1.96h-2.0zM636.4 799.5h2.0v1.96h-2.0zM698.1 799.5h2.0v1.96h-2.0zM636.4 801.4h2.0v1.96h-2.0zM698.1 801.4h2.0v1.96h-2.0zM636.4 803.2h2.0v1.96h-2.0zM696.3 803.2h2.0v1.96h-2.0zM636.4 805.1h3.8v1.96h-3.8zM696.3 805.1h2.0v1.96h-2.0zM638.3 807.0h2.0v1.96h-2.0zM638.3 808.8h2.0v1.96h-2.0zM694.4 808.8h2.0v1.96h-2.0zM638.3 810.7h2.0v1.96h-2.0zM692.5 810.7h3.8v1.96h-3.8zM638.3 812.6h3.8v1.96h-3.8zM692.5 812.6h2.0v1.96h-2.0zM640.2 814.4h3.8v1.96h-3.8zM688.8 814.4h3.8v1.96h-3.8zM640.2 816.3h5.7v1.96h-5.7zM686.9 816.3h3.8v1.96h-3.8zM642.0 818.2h5.7v1.96h-5.7zM683.2 818.2h5.7v1.96h-5.7zM643.9 820.0h5.7v1.96h-5.7zM679.4 820.0h5.7v1.96h-5.7zM647.6 821.9h7.6v1.96h-7.6zM675.7 821.9h5.7v1.96h-5.7zM651.4 823.7h26.3v1.96h-26.3zM658.9 825.6h13.2v1.96h-13.2z"/>
<path fill="#0652ff" d="M711.2 717.5h2.0v1.96h-2.0zM709.3 721.3h2.0v1.96h-2.0zM713.1 723.1h2.0v1.96h-2.0zM713.1 725.0h2.0v1.96h-2.0zM700.0 749.2h2.0v1.96h-2.0zM694.4 758.5h2.0v1.96h-2.0zM713.1 760.4h2.0v1.96h-2.0zM713.1 762.3h2.0v1.96h-2.0zM711.2 769.7h2.0v1.96h-2.0zM709.3 773.4h2.0v1.96h-2.0zM673.8 779.0h2.0v1.96h-2.0zM707.5 779.0h2.0v1.96h-2.0zM668.2 782.8h2.0v1.96h-2.0zM705.6 782.8h2.0v1.96h-2.0zM658.9 786.5h2.0v1.96h-2.0zM703.7 786.5h2.0v1.96h-2.0zM643.9 788.3h3.8v1.96h-3.8zM703.7 788.3h2.0v1.96h-2.0zM642.0 790.2h3.8v1.96h-3.8zM701.9 790.2h2.0v1.96h-2.0zM640.2 792.1h3.8v1.96h-3.8zM640.2 793.9h2.0v1.96h-2.0zM700.0 793.9h2.0v1.96h-2.0zM640.2 795.8h2.0v1.96h-2.0zM638.3 797.7h3.8v1.96h-3.8zM698.1 797.7h2.0v1.96h-2.0zM638.3 799.5h2.0v1.96h-2.0zM638.3 801.4h3.8v1.96h-3.8zM696.3 801.4h2.0v1.96h-2.0zM638.3 803.2h3.8v1.96h-3.8zM640.2 805.1h2.0v1.96h-2.0zM694.4 805.1h2.0v1.96h-2.0zM640.2 807.0h2.0v1.96h-2.0zM694.4 807.0h2.0v1.96h-2.0zM640.2 808.8h3.8v1.96h-3.8zM692.5 808.8h2.0v1.96h-2.0zM640.2 810.7h3.8v1.96h-3.8zM690.6 810.7h2.0v1.96h-2.0zM642.0 812.6h3.8v1.96h-3.8zM688.8 812.6h3.8v1.96h-3.8zM643.9 814.4h3.8v1.96h-3.8zM686.9 814.4h2.0v1.96h-2.0zM645.8 816.3h3.8v1.96h-3.8zM683.2 816.3h3.8v1.96h-3.8zM647.6 818.2h5.7v1.96h-5.7zM679.4 818.2h3.8v1.96h-3.8zM649.5 820.0h9.5v1.96h-9.5zM673.8 820.0h5.7v1.96h-5.7zM655.1 821.9h20.7v1.96h-20.7z"/>
<path fill="#0482ff" d="M711.2 719.4h2.0v1.96h-2.0zM713.1 726.9h2.0v1.96h-2.0zM698.1 752.9h2.0v1.96h-2.0zM713.1 758.5h2.0v1.96h-2.0zM711.2 767.8h2.0v1.96h-2.0zM685.0 769.7h2.0v1.96h-2.0zM683.2 771.6h2.0v1.96h-2.0zM681.3 773.4h2.0v1.96h-2.0zM679.4 775.3h2.0v1.96h-2.0zM707.5 777.2h2.0v1.96h-2.0zM671.9 780.9h2.0v1.96h-2.0zM705.6 780.9h2.0v1.96h-2.0zM664.5 784.6h2.0v1.96h-2.0zM703.7 784.6h2.0v1.96h-2.0zM647.6 788.3h5.7v1.96h-5.7zM645.8 790.2h3.8v1.96h-3.8zM643.9 792.1h3.8v1.96h-3.8zM700.0 792.1h2.0v1.96h-2.0zM642.0 793.9h3.8v1.96h-3.8zM642.0 795.8h2.0v1.96h-2.0zM698.1 795.8h2.0v1.96h-2.0zM642.0 797.7h2.0v1.96h-2.0zM640.2 799.5h3.8v1.96h-3.8zM696.3 799.5h2.0v1.96h-2.0zM642.0 801.4h2.0v1.96h-2.0zM642.0 803.2h2.0v1.96h-2.0zM694.4 803.2h2.0v1.96h-2.0zM642.0 805.1h2.0v1.96h-2.0zM642.0 807.0h3.8v1.96h-3.8zM692.5 807.0h2.0v1.96h-2.0zM643.9 808.8h2.0v1.96h-2.0zM690.6 808.8h2.0v1.96h-2.0zM643.9 810.7h3.8v1.96h-3.8zM688.8 810.7h2.0v1.96h-2.0zM645.8 812.6h3.8v1.96h-3.8zM686.9 812.6h2.0v1.96h-2.0zM647.6 814.4h3.8v1.96h-3.8zM683.2 814.4h3.8v1.96h-3.8zM649.5 816.3h7.6v1.96h-7.6zM679.4 816.3h3.8v1.96h-3.8zM653.2 818.2h9.5v1.96h-9.5zM673.8 818.2h5.7v1.96h-5.7zM658.9 820.0h15.1v1.96h-15.1z"/>
<path fill="#02b2ff" d="M711.2 721.3h2.0v1.96h-2.0zM709.3 723.1h2.0v1.96h-2.0zM707.5 728.7h2.0v1.96h-2.0zM713.1 728.7h2.0v1.96h-2.0zM705.6 734.3h2.0v1.96h-2.0zM703.7 739.9h2.0v1.96h-2.0zM701.9 745.5h2.0v1.96h-2.0zM696.3 756.7h2.0v1.96h-2.0zM713.1 756.7h2.0v1.96h-2.0zM688.8 766.0h2.0v1.96h-2.0zM711.2 766.0h2.0v1.96h-2.0zM686.9 767.8h2.0v1.96h-2.0zM709.3 771.6h2.0v1.96h-2.0zM707.5 775.3h2.0v1.96h-2.0zM677.6 777.2h2.0v1.96h-2.0zM675.7 779.0h2.0v1.96h-2.0zM705.6 779.0h2.0v1.96h-2.0zM670.1 782.8h2.0v1.96h-2.0zM666.3 784.6h2.0v1.96h-2.0zM660.7 786.5h2.0v1.96h-2.0zM653.2 788.3h3.8v1.96h-3.8zM701.9 788.3h2.0v1.96h-2.0zM649.5 790.2h3.8v1.96h-3.8zM700.0 790.2h2.0v1.96h-2.0zM647.6 792.1h3.8v1.96h-3.8zM645.8 793.9h3.8v1.96h-3.8zM698.1 793.9h2.0v1.96h-2.0zM643.9 795.8h3.8v1.96h-3.8zM643.9 797.7h3.8v1.96h-3.8zM696.3 797.7h2.0v1.96h-2.0zM643.9 799.5h3.8v1.96h-3.8zM643.9 801.4h3.8v1.96h-3.8zM694.4 801.4h2.0v1.96h-2.0zM643.9 803.2h3.8v1.96h-3.8zM692.5 803.2h2.0v1.96h-2.0zM643.9 805.1h3.8v1.96h-3.8zM692.5 805.1h2.0v1.96h-2.0zM645.8 807.0h3.8v1.96h-3.8zM690.6 807.0h2.0v1.96h-2.0zM645.8 808.8h5.7v1.96h-5.7zM688.8 808.8h2.0v1.96h-2.0zM647.6 810.7h3.8v1.96h-3.8zM686.9 810.7h2.0v1.96h-2.0zM649.5 812.6h5.7v1.96h-5.7zM683.2 812.6h3.8v1.96h-3.8zM651.4 814.4h7.6v1.96h-7.6zM679.4 814.4h3.8v1.96h-3.8zM657.0 816.3h7.6v1.96h-7.6zM671.9 816.3h7.6v1.96h-7.6zM662.6 818.2h11.3v1.96h-11.3z"/>
<path fill="#00e2ff" d="M713.1 730.6h2.0v1.96h-2.0zM700.0 751.1h2.0v1.96h-2.0zM713.1 754.8h2.0v1.96h-2.0zM692.5 762.3h2.0v1.96h-2.0zM690.6 764.1h2.0v1.96h-2.0zM711.2 764.1h2.0v1.96h-2.0zM709.3 769.7h2.0v1.96h-2.0zM683.2 773.4h2.0v1.96h-2.0zM707.5 773.4h2.0v1.96h-2.0zM681.3 775.3h2.0v1.96h-2.0zM673.8 780.9h2.0v1.96h-2.0zM671.9 782.8h2.0v1.96h-2.0zM703.7 782.8h2.0v1.96h-2.0zM668.2 784.6h2.0v1.96h-2.0zM662.6 786.5h3.8v1.96h-3.8zM701.9 786.5h2.0v1.96h-2.0zM657.0 788.3h3.8v1.96h-3.8zM653.2 790.2h3.8v1.96h-3.8zM651.4 792.1h3.8v1.96h-3.8zM698.1 792.1h2.0v1.96h-2.0zM649.5 793.9h3.8v1.96h-3.8zM647.6 795.8h3.8v1.96h-3.8zM696.3 795.8h2.0v1.96h-2.0zM647.6 797.7h3.8v1.96h-3.8zM647.6 799.5h2.0v1.96h-2.0zM694.4 799.5h2.0v1.96h-2.0zM647.6 801.4h3.8v1.96h-3.8zM692.5 801.4h2.0v1.96h-2.0zM647.6 803.2h3.8v1.96h-3.8zM647.6 805.1h3.8v1.96h-3.8zM690.6 805.1h2.0v1.96h-2.0zM649.5 807.0h3.8v1.96h-3.8zM688.8 807.0h2.0v1.96h-2.0zM651.4 808.8h3.8v1.96h-3.8zM686.9 808.8h2.0v1.96h-2.0zM651.4 810.7h5.7v1.96h-5.7zM683.2 810.7h3.8v1.96h-3.8zM655.1 812.6h5.7v1.96h-5.7zM679.4 812.6h3.8v1.96h-3.8zM658.9 814.4h20.7v1.96h-20.7zM664.5 816.3h7.6v1.96h-7.6z"/>
<path fill="#15ece7" d="M711.2 723.1h2.0v1.96h-2.0zM709.3 725.0h2.0v1.96h-2.0zM707.5 730.6h2.0v1.96h-2.0zM713.1 732.4h2.0v1.96h-2.0zM713.1 734.3h2.0v1.96h-2.0zM705.6 736.2h2.0v1.96h-2.0zM703.7 741.8h2.0v1.96h-2.0zM701.9 747.4h2.0v1.96h-2.0zM713.1 751.1h2.0v1.96h-2.0zM713.1 752.9h2.0v1.96h-2.0zM698.1 754.8h2.0v1.96h-2.0zM694.4 760.4h2.0v1.96h-2.0zM711.2 762.3h2.0v1.96h-2.0zM686.9 769.7h2.0v1.96h-2.0zM685.0 771.6h2.0v1.96h-2.0zM679.4 777.2h2.0v1.96h-2.0zM705.6 777.2h2.0v1.96h-2.0zM677.6 779.0h2.0v1.96h-2.0zM703.7 780.9h2.0v1.96h-2.0zM670.1 784.6h2.0v1.96h-2.0zM701.9 784.6h2.0v1.96h-2.0zM666.3 786.5h2.0v1.96h-2.0zM660.7 788.3h3.8v1.96h-3.8zM700.0 788.3h2.0v1.96h-2.0zM657.0 790.2h3.8v1.96h-3.8zM655.1 792.1h2.0v1.96h-2.0zM653.2 793.9h2.0v1.96h-2.0zM696.3 793.9h2.0v1.96h-2.0zM651.4 795.8h3.8v1.96h-3.8zM651.4 797.7h2.0v1.96h-2.0zM694.4 797.7h2.0v1.96h-2.0zM649.5 799.5h3.8v1.96h-3.8zM692.5 799.5h2.0v1.96h-2.0zM651.4 801.4h3.8v1.96h-3.8zM651.4 803.2h3.8v1.96h-3.8zM690.6 803.2h2.0v1.96h-2.0zM651.4 805.1h3.8v1.96h-3.8zM688.8 805.1h2.0v1.96h-2.0zM653.2 807.0h3.8v1.96h-3.8zM686.9 807.0h2.0v1.96h-2.0zM655.1 808.8h5.7v1.96h-5.7zM683.2 808.8h3.8v1.96h-3.8zM657.0 810.7h5.7v1.96h-5.7zM679.4 810.7h3.8v1.96h-3.8zM660.7 812.6h18.8v1.96h-18.8z"/>
<path fill="#2df4ce" d="M711.2 725.0h2.0v1.96h-2.0zM713.1 736.2h2.0v1.96h-2.0zM713.1 738.0h2.0v1.96h-2.0zM713.1 739.9h2.0v1.96h-2.0zM713.1 741.8h2.0v1.96h-2.0zM713.1 743.6h2.0v1.96h-2.0zM713.1 745.5h2.0v1.96h-2.0zM713.1 747.4h2.0v1.96h-2.0zM713.1 749.2h2.0v1.96h-2.0zM696.3 758.5h2.0v1.96h-2.0zM711.2 760.4h2.0v1.96h-2.0zM688.8 767.8h2.0v1.96h-2.0zM709.3 767.8h2.0v1.96h-2.0zM707.5 771.6h2.0v1.96h-2.0zM705.6 775.3h2.0v1.96h-2.0zM703.7 779.0h2.0v1.96h-2.0zM675.7 780.9h2.0v1.96h-2.0zM673.8 782.8h2.0v1.96h-2.0zM701.9 782.8h2.0v1.96h-2.0zM668.2 786.5h2.0v1.96h-2.0zM700.0 786.5h2.0v1.96h-2.0zM664.5 788.3h2.0v1.96h-2.0zM660.7 790.2h2.0v1.96h-2.0zM698.1 790.2h2.0v1.96h-2.0zM657.0 792.1h3.8v1.96h-3.8zM696.3 792.1h2.0v1.96h-2.0zM655.1 793.9h3.8v1.96h-3.8zM655.1 795.8h2.0v1.96h-2.0zM694.4 795.8h2.0v1.96h-2.0zM653.2 797.7h3.8v1.96h-3.8zM692.5 797.7h2.0v1.96h-2.0zM653.2 799.5h3.8v1.96h-3.8zM655.1 801.4h2.0v1.96h-2.0zM690.6 801.4h2.0v1.96h-2.0zM655.1 803.2h3.8v1.96h-3.8zM688.8 803.2h2.0v1.96h-2.0zM655.1 805.1h3.8v1.96h-3.8zM686.9 805.1h2.0v1.96h-2.0zM657.0 807.0h5.7v1.96h-5.7zM683.2 807.0h3.8v1.96h-3.8zM660.7 808.8h3.8v1.96h-3.8zM679.4 808.8h3.8v1.96h-3.8zM662.6 810.7h16.9v1.96h-16.9z"/>
<path fill="#45fbb5" d="M709.3 726.9h3.8v1.96h-3.8zM701.9 749.2h2.0v1.96h-2.0zM700.0 752.9h2.0v1.96h-2.0zM692.5 764.1h2.0v1.96h-2.0zM690.6 766.0h2.0v1.96h-2.0zM709.3 766.0h2.0v1.96h-2.0zM685.0 773.4h2.0v1.96h-2.0zM683.2 775.3h2.0v1.96h-2.0zM681.3 777.2h2.0v1.96h-2.0zM671.9 784.6h2.0v1.96h-2.0zM670.1 786.5h2.0v1.96h-2.0zM666.3 788.3h2.0v1.96h-2.0zM698.1 788.3h2.0v1.96h-2.0zM662.6 790.2h3.8v1.96h-3.8zM660.7 792.1h2.0v1.96h-2.0zM658.9 793.9h2.0v1.96h-2.0zM694.4 793.9h2.0v1.96h-2.0zM657.0 795.8h3.8v1.96h-3.8zM692.5 795.8h2.0v1.96h-2.0zM657.0 797.7h3.8v1.96h-3.8zM657.0 799.5h3.8v1.96h-3.8zM690.6 799.5h2.0v1.96h-2.0zM657.0 801.4h3.8v1.96h-3.8zM688.8 801.4h2.0v1.96h-2.0zM658.9 803.2h3.8v1.96h-3.8zM686.9 803.2h2.0v1.96h-2.0zM658.9 805.1h5.7v1.96h-5.7zM683.2 805.1h3.8v1.96h-3.8zM662.6 807.0h3.8v1.96h-3.8zM679.4 807.0h3.8v1.96h-3.8zM664.5 808.8h15.1v1.96h-15.1z"/>
<path fill="#6cfe8d" d="M707.5 732.4h2.0v1.96h-2.0zM705.6 738.0h2.0v1.96h-2.0zM703.7 743.6h2.0v1.96h-2.0zM698.1 756.7h2.0v1.96h-2.0zM711.2 758.5h2.0v1.96h-2.0zM694.4 762.3h2.0v1.96h-2.0zM707.5 769.7h2.0v1.96h-2.0zM686.9 771.6h2.0v1.96h-2.0zM705.6 773.4h2.0v1.96h-2.0zM703.7 777.2h2.0v1.96h-2.0zM679.4 779.0h2.0v1.96h-2.0zM677.6 780.9h2.0v1.96h-2.0zM701.9 780.9h2.0v1.96h-2.0zM675.7 782.8h2.0v1.96h-2.0zM673.8 784.6h2.0v1.96h-2.0zM700.0 784.6h2.0v1.96h-2.0zM698.1 786.5h2.0v1.96h-2.0zM668.2 788.3h2.0v1.96h-2.0zM666.3 790.2h2.0v1.96h-2.0zM696.3 790.2h2.0v1.96h-2.0zM662.6 792.1h2.0v1.96h-2.0zM694.4 792.1h2.0v1.96h-2.0zM660.7 793.9h3.8v1.96h-3.8zM660.7 795.8h2.0v1.96h-2.0zM660.7 797.7h2.0v1.96h-2.0zM690.6 797.7h2.0v1.96h-2.0zM660.7 799.5h2.0v1.96h-2.0zM688.8 799.5h2.0v1.96h-2.0zM660.7 801.4h3.8v1.96h-3.8zM686.9 801.4h2.0v1.96h-2.0zM662.6 803.2h3.8v1.96h-3.8zM683.2 803.2h3.8v1.96h-3.8zM664.5 805.1h7.6v1.96h-7.6zM679.4 805.1h3.8v1.96h-3.8zM666.3 807.0h13.2v1.96h-13.2z"/>
<path fill="#9efc5b" d="M709.3 728.7h3.8v1.96h-3.8zM711.2 756.7h2.0v1.96h-2.0zM696.3 760.4h2.0v1.96h-2.0zM709.3 764.1h2.0v1.96h-2.0zM688.8 769.7h2.0v1.96h-2.0zM701.9 779.0h2.0v1.96h-2.0zM700.0 782.8h2.0v1.96h-2.0zM671.9 786.5h2.0v1.96h-2.0zM670.1 788.3h2.0v1.96h-2.0zM696.3 788.3h2.0v1.96h-2.0zM668.2 790.2h2.0v1.96h-2.0zM664.5 792.1h3.8v1.96h-3.8zM664.5 793.9h2.0v1.96h-2.0zM692.5 793.9h2.0v1.96h-2.0zM662.6 795.8h2.0v1.96h-2.0zM690.6 795.8h2.0v1.96h-2.0zM662.6 797.7h3.8v1.96h-3.8zM688.8 797.7h2.0v1.96h-2.0zM662.6 799.5h3.8v1.96h-3.8zM686.9 799.5h2.0v1.96h-2.0zM664.5 801.4h3.8v1.96h-3.8zM685.0 801.4h2.0v1.96h-2.0zM666.3 803.2h7.6v1.96h-7.6zM679.4 803.2h3.8v1.96h-3.8zM671.9 805.1h7.6v1.96h-7.6z"/>
<path fill="#d1fb28" d="M711.2 730.6h2.0v1.96h-2.0zM707.5 734.3h2.0v1.96h-2.0zM705.6 739.9h2.0v1.96h-2.0zM703.7 745.5h2.0v1.96h-2.0zM701.9 751.1h2.0v1.96h-2.0zM700.0 754.8h2.0v1.96h-2.0zM711.2 754.8h2.0v1.96h-2.0zM709.3 762.3h2.0v1.96h-2.0zM692.5 766.0h2.0v1.96h-2.0zM690.6 767.8h2.0v1.96h-2.0zM707.5 767.8h2.0v1.96h-2.0zM705.6 771.6h2.0v1.96h-2.0zM685.0 775.3h2.0v1.96h-2.0zM703.7 775.3h2.0v1.96h-2.0zM683.2 777.2h2.0v1.96h-2.0zM681.3 779.0h2.0v1.96h-2.0zM679.4 780.9h2.0v1.96h-2.0zM677.6 782.8h2.0v1.96h-2.0zM675.7 784.6h2.0v1.96h-2.0zM698.1 784.6h2.0v1.96h-2.0zM673.8 786.5h2.0v1.96h-2.0zM671.9 788.3h2.0v1.96h-2.0zM670.1 790.2h2.0v1.96h-2.0zM694.4 790.2h2.0v1.96h-2.0zM668.2 792.1h2.0v1.96h-2.0zM692.5 792.1h2.0v1.96h-2.0zM666.3 793.9h2.0v1.96h-2.0zM690.6 793.9h2.0v1.96h-2.0zM664.5 795.8h3.8v1.96h-3.8zM688.8 795.8h2.0v1.96h-2.0zM666.3 797.7h3.8v1.96h-3.8zM686.9 797.7h2.0v1.96h-2.0zM666.3 799.5h5.7v1.96h-5.7zM685.0 799.5h2.0v1.96h-2.0zM668.2 801.4h7.6v1.96h-7.6zM677.6 801.4h7.6v1.96h-7.6zM673.8 803.2h5.7v1.96h-5.7z"/>
<path fill="#faf200" d="M709.3 730.6h2.0v1.96h-2.0zM711.2 732.4h2.0v1.96h-2.0zM711.2 752.9h2.0v1.96h-2.0zM698.1 758.5h2.0v1.96h-2.0zM694.4 764.1h2.0v1.96h-2.0zM686.9 773.4h2.0v1.96h-2.0zM701.9 777.2h2.0v1.96h-2.0zM700.0 780.9h2.0v1.96h-2.0zM696.3 786.5h2.0v1.96h-2.0zM694.4 788.3h2.0v1.96h-2.0zM671.9 790.2h2.0v1.96h-2.0zM692.5 790.2h2.0v1.96h-2.0zM670.1 792.1h2.0v1.96h-2.0zM668.2 793.9h3.8v1.96h-3.8zM668.2 795.8h3.8v1.96h-3.8zM686.9 795.8h2.0v1.96h-2.0zM670.1 797.7h3.8v1.96h-3.8zM685.0 797.7h2.0v1.96h-2.0zM671.9 799.5h13.2v1.96h-13.2zM675.7 801.4h2.0v1.96h-2.0z"/>
<path fill="#fbcf00" d="M711.2 734.3h2.0v1.96h-2.0zM705.6 741.8h2.0v1.96h-2.0zM703.7 747.4h2.0v1.96h-2.0zM711.2 751.1h2.0v1.96h-2.0zM709.3 760.4h2.0v1.96h-2.0zM696.3 762.3h2.0v1.96h-2.0zM707.5 766.0h2.0v1.96h-2.0zM690.6 769.7h2.0v1.96h-2.0zM705.6 769.7h2.0v1.96h-2.0zM688.8 771.6h2.0v1.96h-2.0zM703.7 773.4h2.0v1.96h-2.0zM700.0 779.0h2.0v1.96h-2.0zM698.1 782.8h2.0v1.96h-2.0zM696.3 784.6h2.0v1.96h-2.0zM675.7 786.5h2.0v1.96h-2.0zM673.8 788.3h2.0v1.96h-2.0zM671.9 792.1h2.0v1.96h-2.0zM690.6 792.1h2.0v1.96h-2.0zM671.9 793.9h2.0v1.96h-2.0zM688.8 793.9h2.0v1.96h-2.0zM671.9 795.8h3.8v1.96h-3.8zM685.0 795.8h2.0v1.96h-2.0zM673.8 797.7h11.3v1.96h-11.3z"/>
<path fill="#fcab00" d="M709.3 732.4h2.0v1.96h-2.0zM707.5 736.2h2.0v1.96h-2.0zM711.2 736.2h2.0v1.96h-2.0zM711.2 743.6h2.0v1.96h-2.0zM711.2 745.5h2.0v1.96h-2.0zM711.2 747.4h2.0v1.96h-2.0zM711.2 749.2h2.0v1.96h-2.0zM701.9 752.9h2.0v1.96h-2.0zM700.0 756.7h2.0v1.96h-2.0zM709.3 758.5h2.0v1.96h-2.0zM698.1 760.4h2.0v1.96h-2.0zM692.5 767.8h2.0v1.96h-2.0zM686.9 775.3h2.0v1.96h-2.0zM701.9 775.3h2.0v1.96h-2.0zM685.0 777.2h2.0v1.96h-2.0zM683.2 779.0h2.0v1.96h-2.0zM681.3 780.9h2.0v1.96h-2.0zM698.1 780.9h2.0v1.96h-2.0zM679.4 782.8h2.0v1.96h-2.0zM677.6 784.6h2.0v1.96h-2.0zM694.4 786.5h2.0v1.96h-2.0zM675.7 788.3h2.0v1.96h-2.0zM692.5 788.3h2.0v1.96h-2.0zM673.8 790.2h2.0v1.96h-2.0zM690.6 790.2h2.0v1.96h-2.0zM673.8 792.1h2.0v1.96h-2.0zM688.8 792.1h2.0v1.96h-2.0zM673.8 793.9h3.8v1.96h-3.8zM685.0 793.9h3.8v1.96h-3.8zM675.7 795.8h9.5v1.96h-9.5z"/>
<path fill="#fe8700" d="M711.2 738.0h2.0v1.96h-2.0zM711.2 739.9h2.0v1.96h-2.0zM711.2 741.8h2.0v1.96h-2.0zM705.6 743.6h2.0v1.96h-2.0zM703.7 749.2h2.0v1.96h-2.0zM707.5 764.1h2.0v1.96h-2.0zM694.4 766.0h2.0v1.96h-2.0zM705.6 767.8h2.0v1.96h-2.0zM703.7 771.6h2.0v1.96h-2.0zM688.8 773.4h2.0v1.96h-2.0zM700.0 777.2h2.0v1.96h-2.0zM696.3 782.8h2.0v1.96h-2.0zM679.4 784.6h2.0v1.96h-2.0zM694.4 784.6h2.0v1.96h-2.0zM677.6 786.5h2.0v1.96h-2.0zM690.6 788.3h2.0v1.96h-2.0zM675.7 790.2h2.0v1.96h-2.0zM688.8 790.2h2.0v1.96h-2.0zM675.7 792.1h3.8v1.96h-3.8zM686.9 792.1h2.0v1.96h-2.0zM677.6 793.9h7.6v1.96h-7.6z"/>
<path fill="#fd6400" d="M709.3 734.3h2.0v1.96h-2.0zM707.5 738.0h2.0v1.96h-2.0zM709.3 756.7h2.0v1.96h-2.0zM700.0 758.5h2.0v1.96h-2.0zM707.5 762.3h2.0v1.96h-2.0zM696.3 764.1h2.0v1.96h-2.0zM690.6 771.6h2.0v1.96h-2.0zM701.9 773.4h2.0v1.96h-2.0zM685.0 779.0h2.0v1.96h-2.0zM698.1 779.0h2.0v1.96h-2.0zM683.2 780.9h2.0v1.96h-2.0zM681.3 782.8h2.0v1.96h-2.0zM679.4 786.5h2.0v1.96h-2.0zM692.5 786.5h2.0v1.96h-2.0zM677.6 788.3h2.0v1.96h-2.0zM677.6 790.2h3.8v1.96h-3.8zM686.9 790.2h2.0v1.96h-2.0zM679.4 792.1h7.6v1.96h-7.6z"/>
<path fill="#f84400" d="M709.3 736.2h2.0v1.96h-2.0zM705.6 745.5h2.0v1.96h-2.0zM703.7 751.1h2.0v1.96h-2.0zM701.9 754.8h2.0v1.96h-2.0zM709.3 754.8h2.0v1.96h-2.0zM698.1 762.3h2.0v1.96h-2.0zM705.6 766.0h2.0v1.96h-2.0zM692.5 769.7h2.0v1.96h-2.0zM703.7 769.7h2.0v1.96h-2.0zM688.8 775.3h2.0v1.96h-2.0zM700.0 775.3h2.0v1.96h-2.0zM686.9 777.2h2.0v1.96h-2.0zM696.3 780.9h2.0v1.96h-2.0zM694.4 782.8h2.0v1.96h-2.0zM681.3 784.6h2.0v1.96h-2.0zM692.5 784.6h2.0v1.96h-2.0zM690.6 786.5h2.0v1.96h-2.0zM679.4 788.3h3.8v1.96h-3.8zM686.9 788.3h3.8v1.96h-3.8zM681.3 790.2h5.7v1.96h-5.7z"/>
<path fill="#f32300" d="M709.3 738.0h2.0v1.96h-2.0zM707.5 739.9h2.0v1.96h-2.0zM709.3 752.9h2.0v1.96h-2.0zM707.5 760.4h2.0v1.96h-2.0zM694.4 767.8h2.0v1.96h-2.0zM701.9 771.6h2.0v1.96h-2.0zM690.6 773.4h2.0v1.96h-2.0zM698.1 777.2h2.0v1.96h-2.0zM686.9 779.0h2.0v1.96h-2.0zM696.3 779.0h2.0v1.96h-2.0zM685.0 780.9h2.0v1.96h-2.0zM694.4 780.9h2.0v1.96h-2.0zM683.2 782.8h2.0v1.96h-2.0zM692.5 782.8h2.0v1.96h-2.0zM683.2 784.6h2.0v1.96h-2.0zM690.6 784.6h2.0v1.96h-2.0zM681.3 786.5h9.5v1.96h-9.5zM683.2 788.3h3.8v1.96h-3.8z"/>
<path fill="#ee0200" d="M709.3 739.9h2.0v1.96h-2.0zM707.5 741.8h3.8v1.96h-3.8zM709.3 743.6h2.0v1.96h-2.0zM705.6 747.4h2.0v1.96h-2.0zM709.3 749.2h2.0v1.96h-2.0zM709.3 751.1h2.0v1.96h-2.0zM703.7 752.9h2.0v1.96h-2.0zM701.9 756.7h2.0v1.96h-2.0zM707.5 758.5h2.0v1.96h-2.0zM700.0 760.4h2.0v1.96h-2.0zM705.6 764.1h2.0v1.96h-2.0zM696.3 766.0h2.0v1.96h-2.0zM703.7 767.8h2.0v1.96h-2.0zM692.5 771.6h2.0v1.96h-2.0zM700.0 773.4h2.0v1.96h-2.0zM698.1 775.3h2.0v1.96h-2.0zM688.8 777.2h2.0v1.96h-2.0zM696.3 777.2h2.0v1.96h-2.0zM694.4 779.0h2.0v1.96h-2.0zM686.9 780.9h2.0v1.96h-2.0zM692.5 780.9h2.0v1.96h-2.0zM685.0 782.8h3.8v1.96h-3.8zM690.6 782.8h2.0v1.96h-2.0zM685.0 784.6h5.7v1.96h-5.7z"/>
<path fill="#d40000" d="M707.5 743.6h2.0v1.96h-2.0zM709.3 745.5h2.0v1.96h-2.0zM709.3 747.4h2.0v1.96h-2.0zM705.6 749.2h2.0v1.96h-2.0zM705.6 762.3h2.0v1.96h-2.0zM698.1 764.1h2.0v1.96h-2.0zM703.7 766.0h2.0v1.96h-2.0zM694.4 769.7h2.0v1.96h-2.0zM701.9 769.7h2.0v1.96h-2.0zM700.0 771.6h2.0v1.96h-2.0zM692.5 773.4h2.0v1.96h-2.0zM690.6 775.3h2.0v1.96h-2.0zM694.4 777.2h2.0v1.96h-2.0zM688.8 779.0h5.7v1.96h-5.7zM688.8 780.9h3.8v1.96h-3.8zM688.8 782.8h2.0v1.96h-2.0z"/>
<path fill="#b90000" d="M707.5 745.5h2.0v1.96h-2.0zM707.5 747.4h2.0v1.96h-2.0zM705.6 751.1h2.0v1.96h-2.0zM703.7 754.8h2.0v1.96h-2.0zM707.5 756.7h2.0v1.96h-2.0zM701.9 758.5h2.0v1.96h-2.0zM705.6 760.4h2.0v1.96h-2.0zM700.0 762.3h2.0v1.96h-2.0zM698.1 766.0h2.0v1.96h-2.0zM696.3 767.8h2.0v1.96h-2.0zM701.9 767.8h2.0v1.96h-2.0zM694.4 771.6h2.0v1.96h-2.0zM694.4 773.4h5.7v1.96h-5.7zM692.5 775.3h5.7v1.96h-5.7zM690.6 777.2h3.8v1.96h-3.8z"/>
<path fill="#9d0000" d="M707.5 749.2h2.0v1.96h-2.0zM707.5 751.1h2.0v1.96h-2.0zM705.6 752.9h3.8v1.96h-3.8zM707.5 754.8h2.0v1.96h-2.0zM703.7 756.7h2.0v1.96h-2.0zM705.6 758.5h2.0v1.96h-2.0zM701.9 760.4h2.0v1.96h-2.0zM700.0 764.1h2.0v1.96h-2.0zM703.7 764.1h2.0v1.96h-2.0zM701.9 766.0h2.0v1.96h-2.0zM698.1 767.8h3.8v1.96h-3.8zM696.3 769.7h5.7v1.96h-5.7zM696.3 771.6h3.8v1.96h-3.8z"/>
<path fill="#820000" d="M705.6 754.8h2.0v1.96h-2.0zM705.6 756.7h2.0v1.96h-2.0zM703.7 758.5h2.0v1.96h-2.0zM703.7 760.4h2.0v1.96h-2.0zM701.9 762.3h3.8v1.96h-3.8zM701.9 764.1h2.0v1.96h-2.0zM700.0 766.0h2.0v1.96h-2.0z"/></g>
<rect x="791.3" y="735" width="21.3" height="99.6" fill="url(#cbar)"/>
<text transform="translate(843.10 814.80) rotate(-90.00)" font-size="31.50" font-weight="normal" font-style="normal" fill="#000" text-anchor="start" textLength="60.70" lengthAdjust="spacingAndGlyphs" stroke="#000" stroke-width="0.60" stroke-linejoin="round">Strain</text>
</svg>
</body></html>
